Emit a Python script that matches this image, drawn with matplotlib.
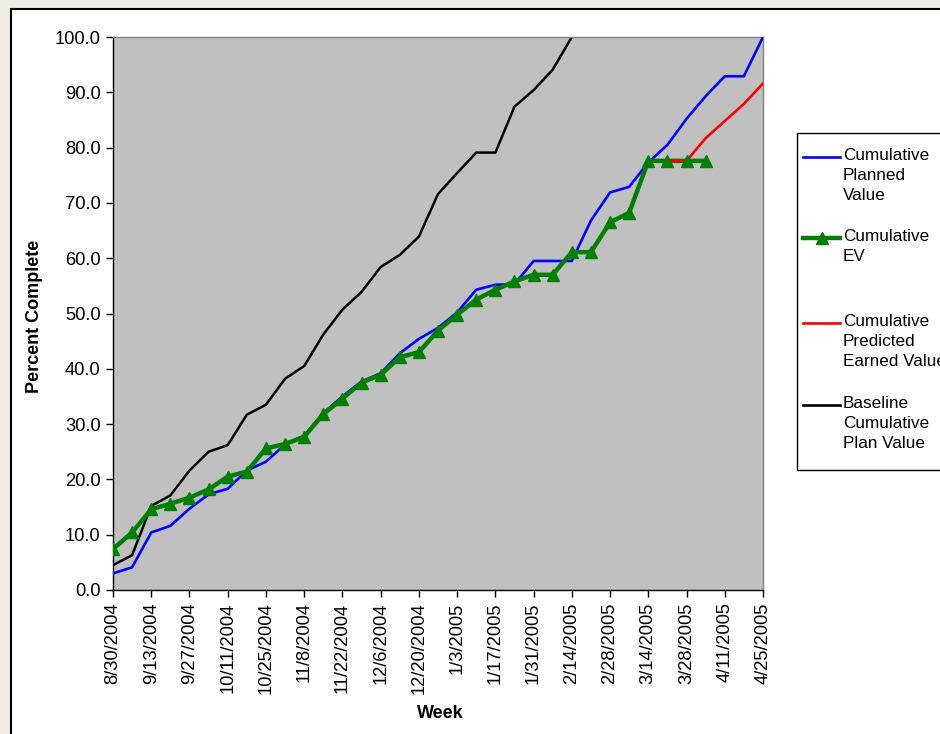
import numpy as np
import matplotlib
matplotlib.use("Agg")
import matplotlib.pyplot as plt
from matplotlib.lines import Line2D
from matplotlib.patches import Rectangle

plt.rcParams.update({
    "font.family": ["Liberation Sans", "DejaVu Sans"],
    "font.size": 13,
})

# ---------- data ----------
weeks = [
    "8/30/2004", "9/6/2004", "9/13/2004", "9/20/2004", "9/27/2004", "10/4/2004",
    "10/11/2004", "10/18/2004", "10/25/2004", "11/1/2004", "11/8/2004", "11/15/2004",
    "11/22/2004", "11/29/2004", "12/6/2004", "12/13/2004", "12/20/2004", "12/27/2004",
    "1/3/2005", "1/10/2005", "1/17/2005", "1/24/2005", "1/31/2005", "2/7/2005",
    "2/14/2005", "2/21/2005", "2/28/2005", "3/7/2005", "3/14/2005", "3/21/2005",
    "3/28/2005", "4/4/2005", "4/11/2005", "4/18/2005", "4/25/2005",
]

planned = [
    3.0, 4.1, 10.4, 11.6, 14.7, 17.3, 18.3, 21.6, 23.2, 26.3, 27.9, 32.0,
    35.0, 37.7, 39.2, 42.8, 45.4, 47.4, 50.2, 54.3, 55.2, 55.3, 59.5, 59.5,
    59.5, 66.8, 71.9, 72.9, 77.3, 80.5, 85.2, 89.3, 92.9, 92.9, 100.0,
]

earned = [
    7.4, 10.4, 14.6, 15.6, 16.7, 18.2, 20.5, 21.4, 25.6, 26.4, 27.7, 31.8,
    34.6, 37.5, 38.9, 42.1, 43.0, 46.9, 49.8, 52.5, 54.3, 55.8, 57.0, 57.0,
    61.1, 61.1, 66.5, 68.2, 77.6, 77.6, 77.6, 77.6,
] + [np.nan] * 3

predicted = [np.nan] * 29 + [77.6, 77.6, 81.7, 84.8, 87.9, 91.6]

baseline = [
    4.5, 6.3, 15.2, 17.1, 21.6, 25.0, 26.2, 31.7, 33.5, 38.2, 40.5, 46.2,
    50.7, 53.9, 58.4, 60.6, 63.9, 71.6, 75.4, 79.1, 79.1, 87.4, 90.4, 94.1,
    100.0,
] + [np.nan] * 10

legend_labels = [
    "Cumulative\nPlanned\nValue",
    "Cumulative\nEV",
    "Cumulative\nPredicted\nEarned Value",
    "Baseline\nCumulative\nPlan Value",
]

# ---------- figure ----------
W, H = 940, 734
fig = plt.figure(figsize=(W / 100, H / 100), dpi=100)
fig.patch.set_facecolor("#EFECE6")


def fx(px):
    return px / W


def fy(py):
    return 1 - py / H


# white chart area with black border (runs off the right/bottom edge)
fig.add_artist(Rectangle((fx(11), fy(760)), fx(1000), fy(9) - fy(760),
                         transform=fig.transFigure, facecolor="white",
                         edgecolor="black", linewidth=1.5, zorder=0))

ax = fig.add_axes([fx(113), fy(590), fx(763) - fx(113), fy(37) - fy(590)])
ax.set_facecolor("#C0C0C0")

x = np.arange(len(weeks))
ax.plot(x, baseline, color="black", lw=1.8, zorder=2)
ax.plot(x, planned, color="#0000FF", lw=1.9, zorder=3)
ax.plot(x, earned, color="#008000", lw=3.2, zorder=4)
ax.plot(x, predicted, color="#FF0000", lw=1.9, zorder=5)
ax.plot(x, earned, color="#008000", lw=0, marker="^", markersize=8,
        zorder=6)

ax.set_xlim(0, len(weeks) - 1)
ax.set_ylim(0, 100)
ax.set_yticks(np.arange(0, 101, 10))
ax.set_yticklabels([f"{v:.1f}" for v in np.arange(0, 101, 10)])
ax.set_xticks(x[::2])
ax.set_xticklabels(weeks[::2], rotation=90)
ax.tick_params(axis="both", direction="out", length=5, width=1,
               color="black", labelsize=13.2, pad=4)

for s in ["left", "bottom"]:
    ax.spines[s].set_color("black")
    ax.spines[s].set_linewidth(1.0)
for s in ["top", "right"]:
    ax.spines[s].set_color("#808080")
    ax.spines[s].set_linewidth(1.0)

fig.text(fx(35), fy(316), "Percent Complete", rotation=90, ha="center",
         va="center", fontsize=13, fontweight="bold")
fig.text(fx(440), fy(714), "Week", ha="center", va="center",
         fontsize=13, fontweight="bold")

# ---------- legend (drawn by hand to keep Excel layout) ----------
fig.add_artist(Rectangle((fx(797), fy(470)), fx(300), fy(133) - fy(470),
                         transform=fig.transFigure, facecolor="white",
                         edgecolor="black", linewidth=1.0, zorder=1))
styles = [
    dict(color="#0000FF", lw=1.9),
    dict(color="#008000", lw=3.2, marker="^", markersize=8),
    dict(color="#FF0000", lw=1.9),
    dict(color="black", lw=1.9),
]
first_line_y = [157, 238, 323, 405]
for lab, st, py in zip(legend_labels, styles, first_line_y):
    ln = Line2D([fx(803), fx(821.5), fx(840)], [fy(py)] * 3,
                transform=fig.transFigure, zorder=2, **st)
    if "marker" in st:
        ln.set_markevery([1])
    fig.add_artist(ln)
    fig.text(fx(843), fy(py - 9), lab, ha="left", va="top", fontsize=12.3,
             linespacing=1.42, zorder=3)

fig.savefig("out.png", dpi=100, facecolor=fig.get_facecolor())
